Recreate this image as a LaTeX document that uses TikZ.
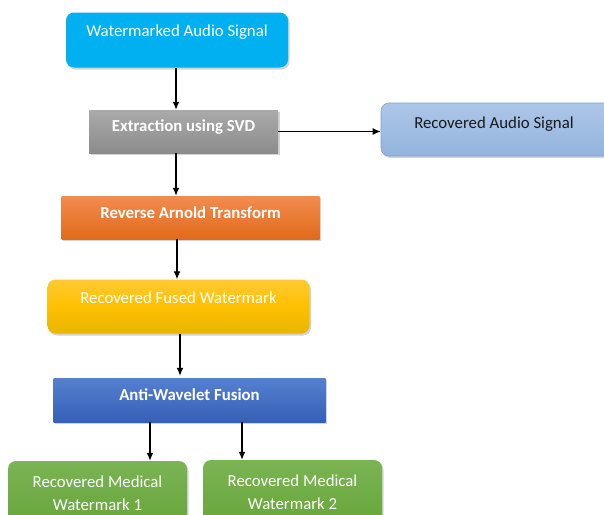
\documentclass[tikz,border=0pt]{standalone}
\usepackage{fontspec}
\setmainfont{Carlito}
\usetikzlibrary{arrows.meta,shadows,calc}
\begin{document}
\begin{tikzpicture}[x=1pt,y=-1pt,
  box/.style={inner sep=0pt, draw=none, drop shadow={opacity=0.35, shadow xshift=1.5pt, shadow yshift=-2pt}},
  rbox/.style={box, rounded corners=8pt},
  wtxt/.style={text=white, font=\fontsize{16.8}{19}\selectfont, inner sep=0pt},
  btxt/.style={text=white, font=\fontsize{16.8}{19}\selectfont\bfseries, inner sep=0pt},
  ktxt/.style={text=black!90, font=\fontsize{16.8}{19}\selectfont, inner sep=0pt},
  arr/.style={-{Latex[length=8pt,width=7pt]}, line width=1.3pt, black}]
\useasboundingbox (0,0) rectangle (604,514);
\clip (0,0) rectangle (604,514);
\coordinate (xa) at (176,0);
\coordinate (xb) at (177,0);
\coordinate (xc) at (180,0);
\coordinate (xd) at (150,0);
\coordinate (xe) at (242,0);
% boxes
\node[rbox, fill={rgb,255:red,0;green,176;blue,240}, minimum width=222pt, minimum height=55pt] (b1) at (177,40) {};
\node[wtxt] (t1) at (177,32) {Watermarked Audio Signal};
\node[box, top color={rgb,255:red,170;green,170;blue,170}, bottom color={rgb,255:red,140;green,140;blue,140}, minimum width=189pt, minimum height=43pt] (b2) at (183.5,131.5) {};
\node[btxt] (t2) at (183.5,127) {Extraction using SVD};
\node[rbox, draw={rgb,255:red,125;green,160;blue,205}, line width=0.6pt, top color={rgb,255:red,172;green,198;blue,232}, bottom color={rgb,255:red,148;green,180;blue,220}, minimum width=240pt, minimum height=53pt] (ra) at (501,129.5) {};
\node[ktxt] (ta) at (494,124) {Recovered Audio Signal};
\node[box, top color={rgb,255:red,242;green,140;blue,80}, bottom color={rgb,255:red,226;green,106;blue,26}, minimum width=258pt, minimum height=43pt] (b3) at (190.5,217.5) {};
\node[btxt] (t3) at (190.5,213) {Reverse Arnold Transform};
\node[rbox, top color={rgb,255:red,255;green,202;blue,50}, bottom color={rgb,255:red,232;green,182;blue,0}, middle color={rgb,255:red,255;green,192;blue,0}, minimum width=262pt, minimum height=54pt] (b4) at (178.5,306.5) {};
\node[wtxt] (t4) at (178.5,298) {Recovered Fused Watermark};
\node[box, top color={rgb,255:red,86;green,128;blue,206}, bottom color={rgb,255:red,52;green,96;blue,184}, minimum width=272pt, minimum height=44pt] (b5) at (189.5,400) {};
\node[btxt] (t5) at (189.5,395) {Anti-Wavelet Fusion};
\node[rbox, top color={rgb,255:red,122;green,180;blue,84}, bottom color={rgb,255:red,104;green,166;blue,58}, minimum width=179pt, minimum height=64pt] (b6) at (97.5,493) {};
\node[wtxt, align=center] (t6) at (97.5,493) {Recovered Medical\\[4pt]Watermark 1};
\node[rbox, top color={rgb,255:red,122;green,180;blue,84}, bottom color={rgb,255:red,104;green,166;blue,58}, minimum width=179pt, minimum height=64pt] (b7) at (292.5,492) {};
\node[wtxt, align=center] (t7) at (292.5,492) {Recovered Medical\\[4pt]Watermark 2};
% connectors
\draw[arr] (b1.south -| xa) -- (b2.north -| xa);
\draw[arr] (b2.east) -- (b2.east -| ra.west);
\draw[arr] (b2.south -| xa) -- (b3.north -| xa);
\draw[arr] (b3.south -| xb) -- (b4.north -| xb);
\draw[arr] (b4.south -| xc) -- ($(b5.north -| xc)+(0,-2)$);
\draw[arr] (b5.south -| xd) -- (b6.north -| xd);
\draw[arr] (b5.south -| xe) -- (b7.north -| xe);
\end{tikzpicture}
\end{document}
